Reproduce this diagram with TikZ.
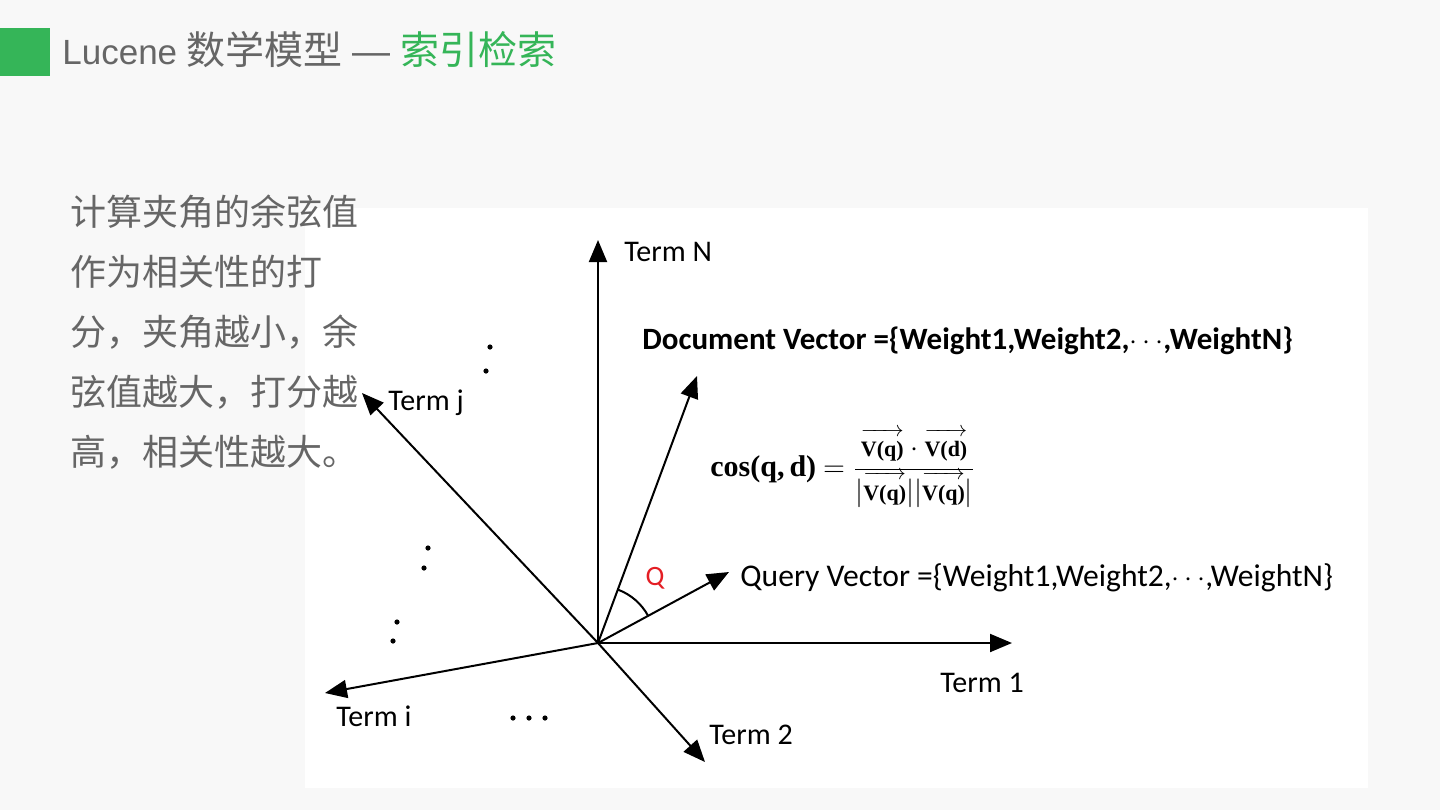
\documentclass[tikz,border=0pt]{standalone}
\usepackage[no-math]{fontspec}
\usetikzlibrary{arrows.meta, positioning, calc}
\setmainfont{Carlito}
\newfontfamily\cjkfont{Noto Sans CJK SC}
\newfontfamily\titlefont{Liberation Sans}
\newfontfamily\formfont{Liberation Serif}
\definecolor{pagebg}{RGB}{248,248,248}
\definecolor{slidegreen}{RGB}{53,181,88}
\definecolor{slidegray}{RGB}{102,102,102}
\definecolor{anglered}{RGB}{228,30,36}
\newcommand{\smallvec}[1]{\vbox{\fontsize{11}{12}\selectfont\ialign{##\crcr\rightarrowfill\crcr\noalign{\kern2.5pt\nointerlineskip}\hfil\formfont\bfseries #1\hfil\crcr}}}
\tikzstyle{vecarrow} = [-{Triangle[length=11pt, width=9pt]}, line width=1pt, black]
\tikzstyle{termlabel} = [font=\fontsize{15}{17}\selectfont, inner sep=0pt, anchor=west]
\tikzstyle{veclabel} = [font=\fontsize{15.8}{18}\selectfont, inner sep=0pt, anchor=west]
\tikzstyle{bodytext} = [font=\cjkfont\fontsize{18}{30}\selectfont, text=slidegray,
inner sep=0pt, align=left, anchor=west]

\begin{document}
\begin{tikzpicture}[x=0.5pt, y=-0.5pt]
    \useasboundingbox (0,0) rectangle (1440,810);
    \fill[pagebg] (0,0) rectangle (1440,810);
    \fill[slidegreen] (0,28) rectangle (50,76);
    \node (title) [anchor=base west, inner sep=0pt, text=slidegray] at (62,64)
        {\titlefont\fontsize{17.5}{20}\selectfont Lucene {\cjkfont\fontsize{19.5}{20}\selectfont 数学模型} {\fontsize{19}{20}\selectfont —} {\color{slidegreen}\cjkfont\fontsize{19.5}{20}\selectfont 索引检索}};
    \fill[white] (305,208) rectangle (1368,788);

    % axes and vectors
    \coordinate (O)  at (598,643);
    \coordinate (tN) at (598,240);
    \coordinate (t1) at (1012,643);
    \coordinate (t2) at (705,762);
    \coordinate (ti) at (325,693);
    \coordinate (tj) at (362,393);
    \coordinate (doc) at (697,376);
    \coordinate (qry) at (729,572);
    \draw[vecarrow] (O) -- (tN);
    \draw[vecarrow] (O) -- (t1);
    \draw[vecarrow] (O) -- (t2);
    \draw[vecarrow] (O) -- (ti);
    \draw[vecarrow] (O) -- (tj);
    \draw[vecarrow] (O) -- (doc);
    \draw[vecarrow] (O) -- (qry);

    \node (lN) [termlabel] at (624,252) {Term N};
    \node (l1) [termlabel] at (940,683) {Term 1};
    \node (l2) [termlabel] at (709,735) {Term 2};
    \node (li) [termlabel] at (336,716) {Term i};
    \node (lj) [termlabel] at (388,403) {Term j};
    \node (ldoc) [veclabel, font=\bfseries\fontsize{15.5}{18}\selectfont] at (642,341)
        {Document Vector =\{Weight1,Weight2,$\cdots$,WeightN\}};
    \node (lqry) [veclabel] at (740,578)
        {Query Vector =\{Weight1,Weight2,$\cdots$,WeightN\}};

    % angle between query and document
    \draw[line width=1pt] ($(O)+(-28.6:57)$) arc[start angle=-28.6, end angle=-69.7, radius=57];
    \node (ang) [text=anglered, font=\fontsize{14}{16}\selectfont, inner sep=0pt] at (655,578) {Q};

    \node (cosf) [anchor=west, inner sep=0pt, font=\fontsize{15}{18}\selectfont] at (710,468)
        {{\formfont\bfseries cos(q,\,d)} $= {\displaystyle\frac{\smallvec{V(q)}\cdot\smallvec{V(d)}}{|\smallvec{V(q)}||\smallvec{V(q)}|}}$};

    % ellipsis dots
    \foreach \px/\py in {490/347, 486/371, 428/548, 424/568, 397/622, 393/641, 513/718, 529/718, 545/718}
        \fill (\px,\py) circle (2.6);

    \node (body) [bodytext] at (70,332)
        {计算夹角的余弦值\\作为相关性的打\\分，夹角越小，余\\弦值越大，打分越\\高，相关性越大。};
\end{tikzpicture}
\end{document}
